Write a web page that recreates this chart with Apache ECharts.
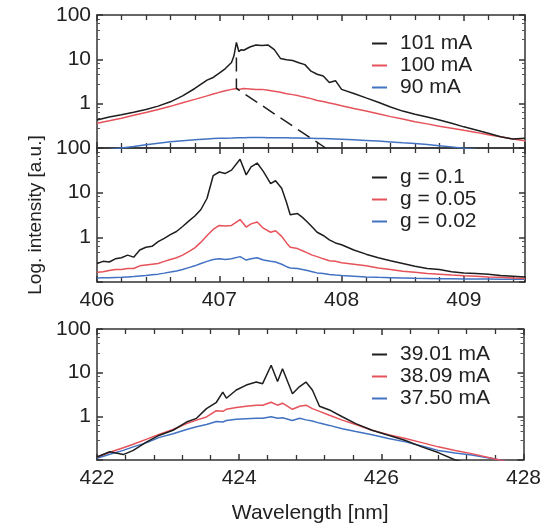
<!DOCTYPE html>
<html>
<head>
<meta charset="utf-8">
<script src="https://cdn.jsdelivr.net/npm/echarts@6/dist/echarts.min.js"></script>
<style>
html,body{margin:0;padding:0;background:#fff;}
#chart{width:544px;height:525px;}
</style>
</head>
<body>
<div id="chart"></div>
<script>
// ---------- DATA ----------
// Top panel (406-409.5 nm)
const wlTop = [406.0,406.1,406.2,406.3,406.4,406.5,406.6,406.7,406.8,406.9,406.95,407.0,407.05,407.1,407.12,407.14,407.16,407.18,407.2,407.25,407.3,407.35,407.4,407.45,407.5,407.55,407.6,407.65,407.7,407.75,407.8,407.85,407.9,407.95,408.0,408.1,408.2,408.3,408.4,408.5,408.6,408.7,408.8,408.9,409.0,409.1,409.2,409.3,409.4,409.5];
const top101 = [0.43,0.5,0.56,0.64,0.74,0.88,1.1,1.5,2.2,3.4,3.9,4.9,6.2,8.5,12,24,15,16.5,16,19,21,20.5,21,16.5,10.5,9.8,9.4,8.4,7.6,5.4,4.6,4.2,3.0,3.3,2.1,1.7,1.35,1.08,0.84,0.68,0.58,0.5,0.43,0.36,0.3,0.255,0.215,0.18,0.16,0.165];
const top100 = [0.36,0.41,0.47,0.55,0.63,0.74,0.87,1.05,1.25,1.5,1.65,1.8,1.95,2.1,2.15,2.2,2.1,2.15,2.2,2.15,2.1,2.1,2.0,1.9,1.8,1.68,1.6,1.5,1.4,1.3,1.18,1.12,1.03,0.97,0.9,0.78,0.68,0.59,0.51,0.45,0.39,0.35,0.31,0.28,0.25,0.225,0.2,0.18,0.16,0.145];
const top90 = [0.085,0.092,0.1,0.108,0.118,0.128,0.138,0.146,0.153,0.16,0.163,0.165,0.167,0.168,0.169,0.17,0.17,0.171,0.171,0.172,0.172,0.172,0.171,0.171,0.17,0.17,0.169,0.168,0.167,0.166,0.164,0.163,0.161,0.159,0.157,0.153,0.148,0.143,0.137,0.131,0.126,0.12,0.113,0.106,0.099,0.093,0.088,0.083,0.079,0.075];
const dashX = [407.14, 407.14, 407.87];
const dashY = [11, 2.2, 0.1];

// Middle panel (406-409.5 nm)
const wlMid = [406.0,406.05,406.1,406.15,406.2,406.25,406.3,406.35,406.4,406.45,406.5,406.55,406.6,406.65,406.7,406.75,406.8,406.85,406.9,406.95,407.0,407.05,407.1,407.17,407.22,407.26,407.31,407.36,407.42,407.46,407.51,407.55,407.58,407.64,407.68,407.72,407.76,407.8,407.85,407.9,407.95,408.0,408.1,408.2,408.3,408.4,408.5,408.6,408.7,408.8,408.9,409.0,409.1,409.2,409.3,409.4,409.5];
const midG10 = [0.26,0.29,0.28,0.33,0.35,0.4,0.36,0.52,0.6,0.63,0.8,0.95,1.15,1.35,1.75,2.3,3.0,4.2,7.5,24,29,27,32,56,25,38,46,30,16,18.5,12.5,6,3.2,3.4,2.8,2.2,1.7,1.3,1.1,0.88,0.75,0.68,0.52,0.42,0.35,0.3,0.26,0.225,0.2,0.19,0.17,0.16,0.155,0.15,0.14,0.135,0.13];
const midG05 = [0.165,0.17,0.18,0.19,0.19,0.2,0.2,0.23,0.24,0.25,0.26,0.29,0.32,0.35,0.4,0.48,0.58,0.78,1.1,1.5,1.85,1.8,1.85,2.5,1.7,2.0,2.2,1.6,1.3,1.4,1.05,0.75,0.6,0.56,0.5,0.45,0.4,0.37,0.33,0.3,0.29,0.27,0.25,0.23,0.205,0.19,0.175,0.165,0.155,0.15,0.143,0.138,0.135,0.13,0.127,0.123,0.12];
const midG02 = [0.123,0.124,0.125,0.126,0.127,0.13,0.133,0.137,0.14,0.145,0.15,0.158,0.167,0.177,0.19,0.21,0.23,0.26,0.29,0.32,0.33,0.32,0.33,0.37,0.31,0.33,0.35,0.31,0.29,0.28,0.25,0.22,0.205,0.2,0.19,0.18,0.17,0.16,0.155,0.148,0.143,0.14,0.135,0.13,0.127,0.125,0.123,0.121,0.12,0.119,0.118,0.117,0.116,0.116,0.115,0.115,0.115];

// Bottom panel (422-428 nm)
const wlBot = [422.0,422.18,422.37,422.51,422.7,422.88,423.07,423.26,423.4,423.54,423.68,423.77,423.82,423.96,424.1,424.24,424.33,424.45,424.54,424.61,424.75,424.85,424.94,425.03,425.13,425.27,425.45,425.64,425.87,426.1,426.34,426.57,426.8,427.04,427.27,427.6,427.8];
const bot3901 = [0.117,0.155,0.133,0.166,0.26,0.37,0.48,0.74,0.9,1.5,2.1,3.6,2.6,4.0,5.2,6.1,5.6,14.8,6.3,12.3,3.3,4.8,6.1,4.0,1.7,1.4,0.98,0.68,0.48,0.37,0.28,0.2,0.148,0.1,0.08,0.06,0.05];
const bot3809 = [0.117,0.15,0.19,0.23,0.3,0.39,0.5,0.68,0.82,0.97,1.35,1.3,1.45,1.6,1.7,1.8,1.8,2.1,1.8,2.0,1.45,1.7,1.8,1.5,1.3,1.06,0.82,0.65,0.48,0.38,0.31,0.25,0.2,0.165,0.14,0.105,0.09];
const bot3750 = [0.11,0.135,0.166,0.2,0.25,0.33,0.4,0.5,0.58,0.65,0.76,0.74,0.8,0.86,0.88,0.9,0.9,0.98,0.9,0.93,0.8,0.9,0.83,0.78,0.7,0.62,0.52,0.45,0.38,0.31,0.26,0.21,0.166,0.145,0.13,0.105,0.09];

const namesTop = ['101 mA','100 mA','90 mA'];
const namesMid = ['g = 0.1','g = 0.05','g = 0.02'];
const namesBot = ['39.01 mA','38.09 mA','37.50 mA'];

// ---------- STYLE ----------
const C_BLACK = '#1e1e1e', C_RED = '#e6525a', C_BLUE = '#4272c2';
const FONT = "'Liberation Sans', Arial, sans-serif";
const FS = 21;
const AX = '#333333';

function pairs(xs, ys){ return xs.map((x,i)=>[x, ys[i]]); }

const grids = [
  {left:97, right:19, top:15, height:133},
  {left:97, right:19, top:148, height:134},
  {left:97, right:19, top:329, height:131}
];

function xAx(gi, pos, min, max, interval, showLabels, extra){
  return Object.assign({
    type:'value', gridIndex:gi, position:pos, min:min, max:max, interval:interval,
    axisLine:{show:true, onZero:false, lineStyle:{color:AX, width:1.5}},
    axisTick:{show:true, inside:true, length:6, lineStyle:{color:AX, width:1.5}},
    minorTick:{show:true, splitNumber:5, length:5, lineStyle:{color:AX, width:1.3}},
    splitLine:{show:false},
    axisLabel:{show:showLabels, fontSize:FS, fontFamily:FONT, color:'#222', margin:8}
  }, extra||{});
}
function yAx(gi, pos, showLabels, extra){
  return Object.assign({
    type:'log', logBase:10, gridIndex:gi, position:pos, min:0.1, max:100,
    axisLine:{show:true, onZero:false, lineStyle:{color:AX, width:1.5}},
    axisTick:{show:true, inside:true, length:6, lineStyle:{color:AX, width:1.5}},
    minorTick:{show:true, length:3, lineStyle:{color:'#555', width:1}},
    splitLine:{show:false},
    axisLabel:{show:showLabels, fontSize:FS, fontFamily:FONT, color:'#222', margin:6,
      formatter:function(v){ return v >= 1 ? String(Math.round(v)) : ''; }}
  }, extra||{});
}

const xAxis = [
  xAx(0,'bottom',406,409.5,1,false),
  xAx(0,'top',406,409.5,1,false),
  xAx(1,'bottom',406,409.5,1,true,{axisLabel:{show:true, fontSize:FS, fontFamily:FONT, color:'#222', margin:8, showMaxLabel:false}}),
  xAx(1,'top',406,409.5,1,false),
  xAx(2,'bottom',422,428,2,true,{name:'Wavelength [nm]', nameLocation:'middle', nameGap:43,
     nameTextStyle:{fontSize:FS, fontFamily:FONT, color:'#222'}}),
  xAx(2,'top',422,428,2,false)
];
const yAxis = [
  yAx(0,'left',true),
  yAx(0,'right',false),
  yAx(1,'left',true,{name:'Log. intensity [a.u.]', nameLocation:'middle', nameGap:52,
     nameTextStyle:{fontSize:19, fontFamily:FONT, color:'#222'}}),
  yAx(1,'right',false),
  yAx(2,'left',true),
  yAx(2,'right',false)
];

function line(name, xi, yi, data, color, extra){
  return Object.assign({
    type:'line', name:name, xAxisIndex:xi, yAxisIndex:yi, data:data,
    showSymbol:false, symbol:'none', smooth:false, clip:true, animation:false,
    lineStyle:{color:color, width:1.5}, itemStyle:{color:color}
  }, extra||{});
}

const series = [
  line(namesTop[2],0,0,pairs(wlTop,top90),C_BLUE),
  line(namesTop[1],0,0,pairs(wlTop,top100),C_RED),
  line(namesTop[0],0,0,pairs(wlTop,top101),C_BLACK),
  line('dash',0,0,pairs(dashX,dashY),C_BLACK,{lineStyle:{color:C_BLACK,width:1.5,type:[14,7]}}),
  line(namesMid[2],2,2,pairs(wlMid,midG02),C_BLUE),
  line(namesMid[1],2,2,pairs(wlMid,midG05),C_RED),
  line(namesMid[0],2,2,pairs(wlMid,midG10),C_BLACK),
  line(namesBot[2],4,4,pairs(wlBot,bot3750),C_BLUE),
  line(namesBot[1],4,4,pairs(wlBot,bot3809),C_RED),
  line(namesBot[0],4,4,pairs(wlBot,bot3901),C_BLACK)
];

function leg(names, top){
  return {
    data:names, orient:'vertical', left:372, top:top, padding:0, itemGap:1,
    itemWidth:15, itemHeight:2, icon:'rect', selectedMode:false,
    itemStyle:{borderWidth:0},
    textStyle:{fontSize:FS, fontFamily:FONT, color:'#222', lineHeight:21, padding:[0,0,0,8]}
  };
}

const chart = echarts.init(document.getElementById('chart'), null, {renderer:'canvas'});
chart.setOption({
  animation:false,
  backgroundColor:'#fff',
  grid:grids,
  xAxis:xAxis,
  yAxis:yAxis,
  legend:[leg(namesTop,33), leg(namesMid,167), leg(namesBot,344)],
  series:series
});
</script>
</body>
</html>
